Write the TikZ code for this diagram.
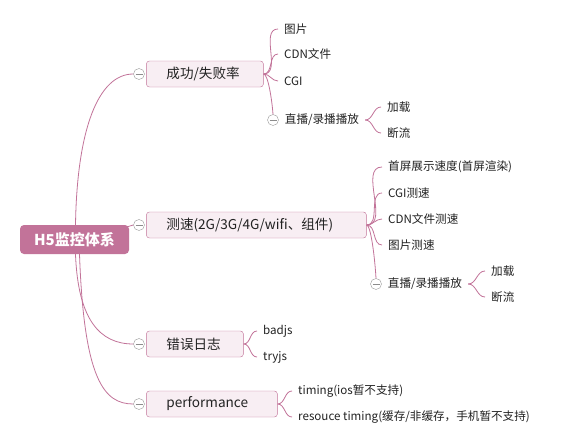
\documentclass[tikz,border=0pt]{standalone}
\usepackage{fontspec}
\setmainfont{Noto Sans CJK SC}
\usepackage{tikz}
\usetikzlibrary{positioning}
\definecolor{mauve}{HTML}{C27399}
\definecolor{topicfill}{HTML}{F8EEF3}
\definecolor{inkgray}{HTML}{222222}

\begin{document}
\begin{tikzpicture}[x=1pt, y=-1pt,
  root/.style={fill=mauve, text=white, rounded corners=4pt, minimum width=109pt,
               minimum height=29pt, font=\fontsize{15}{17}\selectfont\bfseries},
  topic/.style={draw=mauve, fill=topicfill, rounded corners=3pt, minimum height=26pt,
                inner xsep=20pt, align=left, text=inkgray,
                font=\fontsize{13.6}{15}\selectfont},
  leaf/.style={anchor=west, inner xsep=6pt, inner ysep=2pt, text=inkgray,
               font=\fontsize{11.6}{13}\selectfont},
  fold/.style={circle, draw=gray!80, fill=white, minimum size=11pt, inner sep=0pt,
               path picture={\draw[gray!90] ([xshift=-3.5pt]path picture bounding box.center)
                 -- ([xshift=3.5pt]path picture bounding box.center);}},
  link/.style={draw=mauve, line width=0.8pt},
]
  % Paper
  \fill[white] (0,0) rectangle (566,447);

  % Root
  \node[root] (h5) at (74.5,239.5) {H5监控体系};

  % Main topics with fold buttons
  \node[fold] (c1) at (139,74) {};
  \node[topic, text width=77pt, right=1.5pt of c1] (rate) {成功/失败率};
  \node[fold] (c2) at (139,225) {};
  \node[topic, text width=180pt, right=1.5pt of c2] (speed) {测速(2G/3G/4G/wifi、组件)};
  \node[fold] (c3) at (139,344) {};
  \node[topic, text width=57pt, right=1.5pt of c3] (err) {错误日志};
  \node[fold] (c4) at (139,404) {};
  \node[topic, text width=91pt, right=1.5pt of c4] (perf) {performance};

  % Root connectors
  \draw[link] ([xshift=1pt]h5.north) .. controls (77,130) and (98,74) .. (c1.west);
  \draw[link] ([shift={(-2pt,-2pt)}]h5.north east) -- (c2.west);
  \draw[link] ([xshift=1pt]h5.south) .. controls (78,320) and (100,344) .. (c3.west);
  \draw[link] ([xshift=5pt]h5.south) .. controls (84,380) and (104,404) .. (c4.west);

  % Branch: success / failure rate
  \node[leaf] (r1) at (278,29) {图片};
  \node[leaf] (r2) at (278,54) {CDN文件};
  \node[leaf] (r3) at (278,81) {CGI};
  \node[fold] (f1) at (273,120) {};
  \node[leaf, right=0pt of f1] (r4) {直播/录播播放};
  \node[leaf] (r41) at (381,107) {加载};
  \node[leaf] (r42) at (381,133) {断流};
  \foreach \k in {r1,r2,r3}
    \draw[link] (rate.east) to[out=0, in=180] (\k.west);
  \draw[link] (rate.east) .. controls (268,74) and (272,100) .. (f1.north);
  \foreach \k in {r41,r42}
    \draw[link] (r4.east) to[out=0, in=180] (\k.west);

  % Branch: speed
  \node[leaf] (s1) at (382,167) {首屏展示速度(首屏渲染)};
  \node[leaf] (s2) at (382,193) {CGI测速};
  \node[leaf] (s3) at (382,219) {CDN文件测速};
  \node[leaf] (s4) at (382,245) {图片测速};
  \node[fold] (f2) at (376,284) {};
  \node[leaf, right=0pt of f2] (s5) {直播/录播播放};
  \node[leaf] (s51) at (485,271) {加载};
  \node[leaf] (s52) at (485,297) {断流};
  \foreach \k in {s1,s2,s3,s4}
    \draw[link] (speed.east) to[out=0, in=180] (\k.west);
  \draw[link] (speed.east) .. controls (371,225) and (375,260) .. (f2.north);
  \foreach \k in {s51,s52}
    \draw[link] (s5.east) to[out=0, in=180] (\k.west);

  % Branch: error log
  \node[leaf] (e1) at (257,331) {badjs};
  \node[leaf] (e2) at (257,357) {tryjs};
  \foreach \k in {e1,e2}
    \draw[link] (err.east) to[out=0, in=180] (\k.west);

  % Branch: performance
  \node[leaf] (p1) at (292,391) {timing(ios暂不支持)};
  \node[leaf] (p2) at (292,417) {resouce timing(缓存/非缓存，手机暂不支持)};
  \foreach \k in {p1,p2}
    \draw[link] (perf.east) to[out=0, in=180] (\k.west);
\end{tikzpicture}
\end{document}
